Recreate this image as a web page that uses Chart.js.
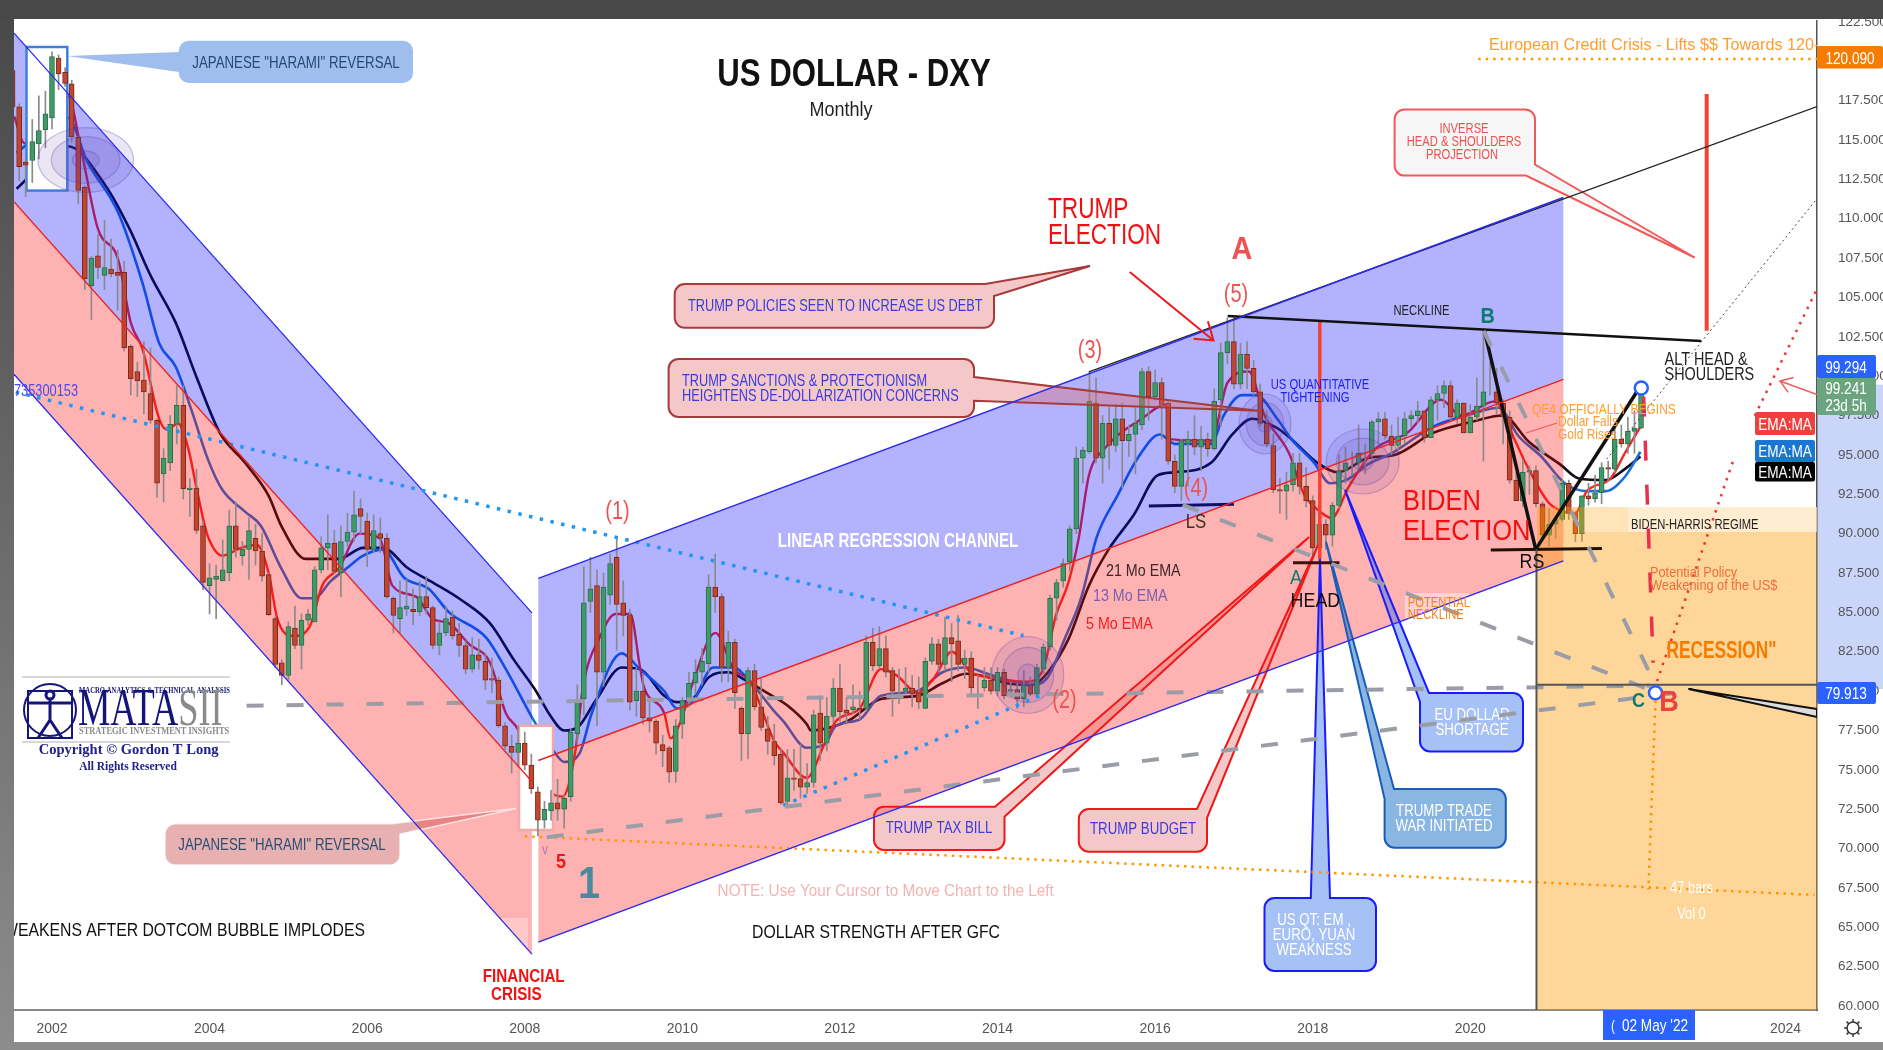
<!DOCTYPE html>
<html><head><meta charset="utf-8"><title>US DOLLAR - DXY</title>
<style>html,body{margin:0;padding:0;background:#666;overflow:hidden}canvas{display:block;filter:blur(0.45px)}</style>
<script src="https://cdn.jsdelivr.net/npm/chart.js@4/dist/chart.umd.min.js"></script></head>
<body><canvas id="c" width="1883" height="1050"></canvas>
<script>
// ---- monthly candles, Jul 2001 .. Mar 2022 ----
const firstCandleYear = 2001.5;
const candleOpen = [119.4,117.1,113.6,113.7,114.75,115.66,
116.4,120.2,119.3,118.56,115.17,112,105.75,107.65,106.4,106.8,106.6,106.6,
101.9,100.3,99.75,98.9,97.2,93.8,94.5,96.95,98.15,92.8,92.9,90.5,
86.7,87.1,87,87.5,90.5,88.6,89,89.7,88.9,87.4,84.6,81.8,
81,84,82.9,84.5,84.4,87.7,89.1,89.4,87.5,89.5,90.1,91.6,
90.8,89,90,89.7,85.9,84.6,85.2,85.2,85.05,86,85.3,82.9,
83.7,84.7,83.6,82.9,81.4,82.3,81.9,80.8,80.7,77.8,76.5,76.1,
76.7,75.3,73.6,71.8,72.4,72.9,72.5,73.3,77.3,79.5,85.7,86.7,
81.2,86.1,88.5,85.6,84.8,79.4,80,78.3,78.1,76.6,76.4,74.9,
77.9,79.5,80.5,81.2,81.75,86.6,86,81.5,83.1,78.9,77.3,81.3,
79,77.6,76.8,76,73,74.5,74.45,73.9,74.2,78.6,76.7,78.4,
80.2,78.8,78.8,78.9,78.9,83.1,81.6,82.7,81.3,80,80,80.2,
79.9,78.9,81.9,83,81.7,83.4,83.2,81.7,82.1,80.2,80.2,80.7,
80,81.2,80,80.1,79.5,80.4,79.8,81.4,82.8,85.9,87,88.2,
90.3,94.8,95.2,98.3,94.8,97,95.6,97.3,95.9,96.3,96.9,100.3,
98.7,99.6,98.3,94.6,93,95.7,96,95.5,96,95.4,98.5,101.5,
102.2,99.5,101.4,100.5,99,97,95.6,92.8,92.7,93.1,94.5,93,
92.1,89.1,90.6,89.9,91.8,94,94.5,94.5,95.1,95.1,97.1,97.3,
96.2,95.6,96.2,97.3,97.5,97.8,96.1,98.5,98.9,99.4,97.4,98.3,
96.4,97.4,98.1,99,99,98.3,97.4,93.4,92.1,93.9,94,91.9,
89.9,90.6,90.9,93.2,91.3,90,92.4,92.2,92.6,94.2,94.1,96,
95.7,96.5,96.7];
const candleHigh = [120.3,117.3,113.7,116.3,117.8,118.1,
120.6,120.4,119.6,118.8,115.2,112.1,107.6,109,109.9,108.7,108,107.3,
102,100.9,102.2,101.8,97.3,95.4,97.5,99.4,99.4,93.5,94.1,90.8,
88.1,88,89.6,91.5,92,89.5,91,90.6,90,87.5,84.7,82,
84.4,85.4,84.9,85.2,87.9,89.8,91.2,90.2,90.5,91.3,92.7,92.2,
91.3,91.2,91,90,86,87,87.1,86.5,87,87.3,85.4,84.4,
85.4,85.1,84.3,83.2,83.4,83.3,82.4,82.1,80.9,78,77.2,77.8,
77.4,76,73.9,73,73.7,74.4,73.4,77.6,80.4,87.9,88.5,87.7,
87.5,88.7,89.7,87,85.2,81.5,81.1,79.3,78.2,77.2,76.5,78.2,
79.6,81.2,82,82.7,87.4,88.7,86.2,83.8,83.3,79,81.5,81.7,
80.8,78.4,77.9,76.3,76.3,76.3,76.6,75.4,78.8,79.7,79.6,80.8,
81.7,79.6,80.4,80,83.5,84,84.1,83.5,81.5,81.4,81.5,81,
80.9,82.1,83.4,83.3,84.7,84.3,84.8,82.6,82.5,81,81.5,81.5,
81.5,81.4,80.6,80.5,81.3,80.9,81.7,83,86.1,87.1,88.4,90.5,
95.5,95.5,100.3,99.9,97.5,98,98.2,98.3,96.9,98,100.5,100.6,
100.4,99.9,98.5,95,96,96.5,97.5,96.8,96.4,99.2,102.1,103.7,
103.8,102.1,102.2,101,99.5,97.8,96.3,93.5,93.9,95.1,95.1,94.2,
92.4,90.9,90.9,92,95,95.5,95.2,96.9,95.7,97.2,97.7,97.7,
96.9,97.4,97.7,97.8,98.4,97.8,98.7,99.4,99.7,99.7,98.5,98.3,
98.2,99.9,103,100.9,100.5,98.5,97.8,93.9,94.7,94.3,94.3,92,
91.6,91.1,93.4,93.4,91.4,92.4,93.2,93.7,94.5,94.6,96.9,96.9,
97.4,97.8,99.4];
const candleLow = [116.9,112.4,111.4,112.3,113.8,114.5,
115.7,118.2,118.4,114.85,110.95,105.5,103.6,106.2,105.5,106.3,104.2,101.6,
98.8,98.7,97.6,97,92.3,92,94,95.7,92.2,91.1,90,86.45,
84.9,84.6,87,87,88.5,88,87.1,88,87,84.8,81.5,80.4,
80.7,82.7,81.4,84.2,84.4,87.5,87.7,87.5,86,89.2,89.5,90,
87.9,88.8,88.8,85.9,83.7,83.7,84.8,84.2,84.8,84.9,82.7,82.3,
83.5,83.3,82.2,81.1,81.2,81.4,80.1,79.9,77.7,76.3,74.8,75.2,
75,73.5,70.8,71.3,71.8,71.8,71.3,73,76.6,78.5,85,77.8,
80.3,85.5,82.6,83.5,78.8,78.4,77.9,77.4,76,75.2,74.2,74.2,
77,79,79.8,80.4,81.2,85,80.6,80.6,78.9,75.6,75.7,78.8,
77.5,76,75.3,72.8,72.7,73.7,73.2,73.5,73.9,75.6,76.2,78,
78.1,77.9,78.6,78.2,78.7,81.3,81.5,80.9,78.4,79.2,79.8,79,
78.9,78.9,81.7,81.2,81.3,80.6,81.3,80.8,79.7,78.9,80,79.8,
79.7,79.5,79.6,78.9,79,79.7,79.7,81.1,82.6,84.5,86.6,87.6,
90,93.2,95.1,94.5,93.2,94.1,95.2,92.9,94.9,93.8,96.6,97.2,
98.5,96,94.4,92.6,92.1,93,95,94,94.9,95.3,96.8,100.8,
99.2,99.2,99.2,98.8,96.8,95.5,92.6,91.3,90.9,92.7,92.5,91.7,
88.4,88.2,89,89.2,91.6,93.2,93.7,94.1,93.8,94.8,95.7,96,
95,95.2,95.7,96.8,97,95.8,96.1,97.2,98,97.1,97,96.4,
96.4,97.2,94.6,98.8,97.6,95.7,93.2,92.1,91.7,92.5,91.7,89.7,
89.2,89.7,90.8,90.9,89.5,89.5,91.8,92,91.9,93.3,93.9,95.5,
95.1,95.1,96.7];
const candleClose = [117.1,113.3,113.4,114.9,115.6,116.66,
120.3,119.2,118.6,115.2,111.8,106.2,107.5,106.9,106.9,106.5,106.4,101.8,
99.85,99.7,99,97.2,93.2,94.8,96.95,98.15,92.85,92.9,90.2,86.9,
87.2,87.3,87.7,90.5,89,89,90.2,88.9,87.3,84.85,81.7,81,
84.1,82.9,84.5,84.9,87.7,89.1,89.4,87.6,89.5,90.1,91.2,91.1,
89,90.2,89.7,86,84.8,85.3,85.4,85.05,86,85.3,82.9,83.7,
84.6,83.5,82.9,81.4,82.3,81.95,80.7,80.7,77.8,76.5,76.1,76.7,
75.3,73.8,71.8,72.5,72.9,72.5,73.2,77.4,79.3,85.6,86.5,81.2,
86.6,88.1,85.5,84.8,79.3,80,78.3,78.1,76.7,76.2,74.85,77.8,
79.4,80.5,81.2,81.9,86.6,86,81.5,83.1,79.9,77.3,81.3,79,
77.7,76.8,75.9,72.9,74.5,74.4,73.9,74.2,78.5,76.7,78.4,80.2,
78.7,78.6,79,78.8,83.1,81.6,82.7,81.2,80,80,80.2,79.8,
79.3,81.9,83,81.7,83.4,83,81.7,82.1,80.2,80.2,80.7,80,
81.2,79.7,80.1,79.5,80.4,79.8,81.5,82.8,85.9,86.9,88.1,90.3,
94.8,95.3,98.4,94.8,97,95.6,97.3,95.9,96.3,97,100.3,98.7,
99.6,98.2,94.6,93,95.9,96,95.5,96,95.4,98.4,101.5,102.2,
99.5,101.4,100.5,99,97,95.7,92.8,92.7,93.1,94.5,93,92.1,
89.1,90.6,89.9,91.8,94,94.5,94.5,95.1,95.1,97.1,97.3,96.2,
95.6,96.2,97.3,97.5,97.8,96.1,98.5,98.9,99.4,97.4,98.3,96.4,
97.4,98.1,99,99,98.3,97.4,93.4,92.1,93.9,94,91.9,89.9,
90.6,90.9,93.2,91.3,90,92.4,92.2,92.6,94.2,94.1,96,95.7,
96.5,96.7,99.24];

// ---- moving averages ----
const ema5Year  = [2001.52,2001.65,2002.2,2002.37,2002.58,2002.84,2003,2003.15,2003.36,2003.46,2003.6,2003.73,2003.83,2003.93,2003.98,2004.16,2004.4,2004.6,2004.75,2004.86,2005.06,2005.27,2005.43,2005.64,2005.9,2006.16,2006.32,2006.62,2006.83,2007.04,2007.29,2007.56,2007.76,2007.91,2008.08,2008.28,2008.48,2008.64,2008.74,2008.95,2009.15,2009.34,2009.46,2009.51,2009.77,2009.85,2009.98,2010.13,2010.42,2010.65,2010.86,2011.17,2011.28,2011.58,2011.8,2011.95,2012.25,2012.52,2012.72,2012.98,2013.19,2013.42,2013.66,2013.87,2014.38,2014.58,2014.74,2014.9,2015.03,2015.16,2015.36,2015.83,2016.14,2016.19,2016.71,2016.92,2017.19,2017.39,2017.7,2017.88,2018.12,2018.24,2018.46,2018.8,2019.2,2019.63,2019.88,2020.31,2020.56,2020.7,2020.99,2021.18,2021.33,2021.48,2021.78,2021.96,2022.16];
const ema5Value = [116.5,114.8,117.8,114.4,109.4,107.4,103.4,101.7,97.3,96.6,97,95.4,93,90.7,89.8,88.6,89.1,89.3,87.5,84.6,83.5,84.1,86.7,87.8,90,89.7,86.7,86,84.6,84.3,83,81.8,78.6,77.6,75.6,73.8,73.3,76.1,80.3,83.4,84.9,84.9,81.6,80.3,78.6,77,78.1,80.5,83.7,81.4,80.6,76.8,76.1,74.5,76.6,78.1,78.9,81.4,81,79.9,80.8,82.5,81.2,80.9,80.6,81.4,84.8,86.9,89.7,93.7,95.4,97.3,98.2,96,95.9,99.6,100.3,97.5,95.1,92.6,91.3,91,93,95.4,96.4,98.5,97.5,98.4,96,94.5,92,91.4,91.3,92.7,93.5,95.1,96.8];
const ema13Year = [2001.55,2002.2,2002.45,2002.84,2003.15,2003.36,2003.57,2003.78,2003.98,2004.16,2004.45,2004.65,2004.91,2005.17,2005.33,2005.54,2005.74,2005.95,2006.2,2006.47,2006.78,2007.04,2007.51,2007.76,2008.13,2008.38,2008.5,2008.7,2008.85,2009.23,2009.46,2009.77,2009.93,2010.13,2010.39,2010.65,2010.86,2011.17,2011.28,2011.58,2011.8,2011.95,2012.25,2012.52,2012.98,2013.3,2013.6,2013.87,2014.12,2014.44,2014.64,2014.85,2015.06,2015.26,2015.52,2015.78,2016.06,2016.25,2016.71,2016.87,2017.1,2017.28,2017.55,2017.73,2018.02,2018.22,2018.46,2018.7,2019,2019.53,2020.02,2020.36,2020.61,2020.9,2021.2,2021.48,2021.72,2021.96,2022.16];
const ema13Value= [114.2,116.4,113.6,110.4,105.9,102.1,100.6,97.7,94.7,92.8,91.4,90.5,87.8,85.9,85.9,87,87.8,88.6,89,87.2,86.5,85,83.4,81.4,78,76.1,75.5,76.1,78.6,82.4,81.4,80,78.9,79.3,81.5,81.5,80.6,78.7,78.1,76.4,76.6,77.8,78.2,79.7,80,81.2,81.5,81.1,80.7,80.4,80.9,83.3,85.9,89.8,92.4,94.8,96.3,95.7,95.7,97.5,98.8,98.8,97.3,96,94.5,93.2,93.5,94.4,95.1,96.8,97.6,98,96.2,94.9,93.2,92.7,92.7,93.6,95.2];
const ema21Year = [2001.55,2002.2,2002.68,2002.98,2003.25,2003.57,2003.83,2004.13,2004.45,2004.75,2004.91,2005.22,2005.64,2005.95,2006.2,2006.52,2006.83,2007.19,2007.56,2007.86,2008.13,2008.33,2008.5,2008.67,2008.9,2009.23,2009.46,2009.77,2009.93,2010.13,2010.34,2010.58,2010.8,2011.07,2011.33,2011.58,2011.63,2012.1,2012.52,2012.98,2013.3,2013.6,2013.87,2014.12,2014.44,2014.64,2014.9,2015.16,2015.41,2015.73,2016.03,2016.25,2016.71,2016.98,2017.23,2017.55,2017.73,2018.06,2018.32,2018.7,2019.04,2019.53,2020.02,2020.41,2020.75,2021.14,2021.38,2021.72,2021.96,2022.16];
const ema21Value= [111.9,114.6,112.1,109.4,106.4,103.4,100,96.4,94.5,92.4,90.5,88.4,88.4,89.1,89.1,87.8,86.9,85.8,84.3,82,80.1,78.4,77.5,77.7,79.4,81.5,81.4,79.7,79.3,79.5,80.9,81.2,80.7,79.9,79.1,77.9,77.5,78.1,79.5,79.7,80.5,81.1,80.9,80.5,80.4,81.2,83.3,86.7,89,91.2,93.7,93.9,94.5,96.3,97.3,96.7,96,94.5,93.9,94.8,95,96.4,97.1,97.5,95.8,94.4,93.5,93.4,94.1,94.9];

// ---- regression channels ----
const downYear = [2001.518,2008.091], downUpper = [121.79,84.97], downMiddle = [111.08,74.26], downLower = [100.12,63.30];
const upYear = [2008.172,2021.181], upUpper = [87.16,111.35], upMiddle = [75.59,99.80], upLower = [64.06,88.27];

// ---- axis ticks ----
const xTickYears = [2002,2004,2006,2008,2010,2012,2014,2016,2018,2020,2024];
const yTickValues = [60,62.5,65,67.5,70,72.5,75,77.5,80,82.5,85,87.5,90,92.5,95,97.5,100,102.5,105,107.5,110,112.5,115,117.5,120,122.5];

// ---- trend lines (year, price) ----
const BLUE='#2a2aee',RED='#ee2222',GREY='#9a9da6',DBLUE='#2196f3',ORG='#ff9800',BLK='#111';
const trendLines = [
 {xs:downYear,ys:downUpper,c:BLUE,w:1.3},{xs:downYear,ys:downMiddle,c:RED,w:1.3},{xs:downYear,ys:downLower,c:BLUE,w:1.3},
 {xs:upYear,ys:upUpper,c:BLUE,w:1.5},{xs:upYear,ys:upMiddle,c:RED,w:1.5},{xs:upYear,ys:upLower,c:BLUE,w:1.5},
 {xs:[2015.16,2024.4],ys:[100.28,117.12],c:'#222',w:1.3},
 {xs:[2020.84,2020.84],ys:[89,59.75],c:'#555',w:2},
 {xs:[2020.84,2024.4],ys:[80.4,80.4],c:'#555',w:2},
 {xs:[2004.47,2022.28],ys:[79.07,80.35],c:GREY,w:4,d:[17,23]},
 {xs:[2008.28,2022.76],ys:[70.72,79.99],c:GREY,w:4,d:[17,23]},
 {xs:[2016.35,2022.27],ys:[91.83,80.1],c:GREY,w:4,d:[17,23]},
 {xs:[2020.17,2022.35],ys:[102.88,80.4],c:GREY,w:4,d:[17,23]},
 {xs:[2001.54,2014.33],ys:[98.98,83.52],c:DBLUE,w:3.5,d:[3.5,7.5]},
 {xs:[2011.28,2014.54],ys:[72.74,79.72],c:DBLUE,w:3.5,d:[3.5,7.5]},
 {xs:[2008,2024.37],ys:[70.78,67.06],c:ORG,w:2.5,d:[2.5,5]},
 {xs:[2020.1,2024.4],ys:[120.15,120.15],c:ORG,w:2.5,d:[2.5,5]},
 {xs:[2022.35,2022.26],ys:[79.4,67.39],c:ORG,w:2.5,d:[2.5,5]},
 {xs:[2023.61,2024.39],ys:[97.48,105.43],c:'#ee3333',w:2.5,d:[2.5,6]},
 {xs:[2022.37,2023.35],ys:[80.63,94.83],c:'#ee3333',w:2.5,d:[2.5,6]},
 {xs:[2021.73,2024.4],ys:[94.73,111.27],c:'#444',w:1,d:[2,3]},
 {xs:[2016.92,2022.93],ys:[103.83,102.24],c:BLK,w:2.5},
 {xs:[2023,2023],ys:[117.92,102.88],c:'#f44336',w:4},
 {xs:[2018.09,2018.09],ys:[103.54,88.39],c:'#f44336',w:3.5},
 {xs:[2022.2,2022.32],ys:[98.7,81.8],c:'#e8304f',w:3.5,d:[20,24]},
 {xs:[2020.18,2020.83],ys:[102.88,89],c:BLK,w:3.5},
 {xs:[2020.83,2022.12],ys:[89,99.06],c:BLK,w:3.5},
 {xs:[2015.92,2017],ys:[91.75,91.86],c:'#101060',w:3},
 {xs:[2017.75,2018.34],ys:[88.15,88.15],c:'#401010',w:3},
 {xs:[2020.26,2021.67],ys:[88.96,89.05],c:'#201000',w:3},
];
const ringYear=[2022.17,2022.35], ringValue=[99.25,79.9];

const pairs=(xs,ys)=>xs.map((x,i)=>({x,y:ys[i]}));
const candleYear=candleClose.map((_,i)=>firstCandleYear+i/12);
const isUp=i=>candleClose[i]>=candleOpen[i];

// ---- pixel-placed decorations ----
const F='"Liberation Sans",sans-serif';
const callouts=[
 {x:178.8,y:40.8,w:234.2,h:42.2,r:10,fill:'rgba(70,130,220,0.52)',stroke:null,side:'left',a:[178.8,72],tip:[67,56],b:[178.8,52],color:'#234c70',size:17,lines:[['JAPANESE "HARAMI" REVERSAL',296,62]],center:true},
 {x:165,y:823.7,w:235,h:41.3,r:10,fill:'rgba(200,70,70,0.42)',stroke:'rgba(255,255,255,0.7)',sw:1.5,side:'tr',a:[392,823.7],tip:[516,808.6],b:[400,834],color:'#2a4f73',size:17,lines:[['JAPANESE "HARAMI" REVERSAL',282,844]],center:true},
 {x:674.7,y:284,w:319.3,h:43.8,r:10,fill:'rgba(224,102,102,0.36)',stroke:'#a83a3a',sw:2,side:'tr',a:[985,284],tip:[1090,266],b:[994,296],color:'#3a3ae0',size:17,xs:.75,lines:[['TRUMP POLICIES SEEN TO INCREASE US DEBT',688,305]]},
 {x:668.6,y:358.9,w:305.4,h:58.1,r:10,fill:'rgba(224,102,102,0.36)',stroke:'#a83a3a',sw:2,side:'right',a:[974,377],tip:[1258,410.7],b:[974,400.7],color:'#3a3ae0',size:17,xs:.75,lines:[['TRUMP SANCTIONS & PROTECTIONISM',682,379.6],['HEIGHTENS DE-DOLLARIZATION CONCERNS',682,395]]},
 {x:874,y:806.7,w:130.5,h:43.3,r:10,fill:'rgba(224,102,102,0.36)',stroke:'#f01818',sw:2,side:'tr',a:[995,806.7],tip:[1309,537],b:[1004.5,816.7],color:'#3a3ae0',size:17,xs:.78,lines:[['TRUMP TAX BILL',939,827]],center:true},
 {x:1078.8,y:809,w:128.2,h:42.7,r:10,fill:'rgba(224,102,102,0.36)',stroke:'#f01818',sw:2,side:'tr',a:[1197,809],tip:[1318,545],b:[1207,818],color:'#3a3ae0',size:17,xs:.78,lines:[['TRUMP BUDGET',1143,828]],center:true},
 {x:1264.5,y:898,w:111.5,h:73,r:10,fill:'rgba(33,100,230,0.4)',stroke:'#1a1aff',sw:2,side:'top',a:[1310.8,898],tip:[1320,558],b:[1330,898],color:'#fff',size:17,xs:.78,lines:[['US QT: EM ,',1314,919],['EURO, YUAN',1314,934],['WEAKNESS',1314,949]],center:true},
 {x:1384.6,y:789,w:121.2,h:58.7,r:10,fill:'rgba(20,110,200,0.5)',stroke:'#1a5cb8',sw:2,side:'tl',a:[1384.6,799],tip:[1326,541.7],b:[1394,789],color:'#fff',size:17,xs:.78,lines:[['TRUMP TRADE',1444,810],['WAR INITIATED',1444,825]],center:true},
 {x:1420,y:693,w:103,h:58.4,r:10,fill:'rgba(33,100,230,0.4)',stroke:'#1a1aff',sw:2,side:'tl',a:[1420,702],tip:[1345,490],b:[1429,693],color:'#fff',size:17,xs:.78,lines:[['EU DOLLAR',1472,714],['SHORTAGE',1472,729]],center:true},
 {x:1394.6,y:109.4,w:140.4,h:66.2,r:10,fill:'rgba(245,245,245,0.9)',stroke:'#f05a5a',sw:2,side:'br',a:[1535,164.5],tip:[1694.6,257.5],b:[1526,175.6],color:'#f05050',size:14,xs:.8,lines:[['INVERSE',1464,127.5],['HEAD & SHOULDERS',1464,140.5],['PROJECTION',1462,153.5]],center:true},
];
const ellipses=[[85.7,160,47.8,32.4],[1027.8,675,36,38.5],[1265,424,26,30],[1362.7,461.5,36.5,32.5]];
const labels=[
 ['US DOLLAR - DXY',854,74.5,{s:38,b:1,c:'#111',a:'center',x:.82}],['Monthly',841,109,{s:20,c:'#222',a:'center',x:.9}],
 ['(1)',617.5,511,{s:25,c:'#ef5350',a:'center'}],['(3)',1090,349.5,{s:25,c:'#ef5350',a:'center'}],['(5)',1236,293.6,{s:25,c:'#ef5350',a:'center'}],
 ['A',1242,248.5,{s:32,b:1,c:'#ef5350',a:'center',x:.9}],['(4)',1196,488,{s:25,c:'#ef5350',a:'center'}],['LS',1196,521,{s:21,c:'#332',a:'center'}],['(2)',1064.5,700,{s:25,c:'#ef5350',a:'center'}],
 ['TRUMP',1048,208,{s:29,c:'#f01010',x:.78}],['ELECTION',1048,234,{s:29,c:'#f01010',x:.78}],
 ['LINEAR REGRESSION CHANNEL',898,539.5,{s:20,b:1,c:'#fff',a:'center',x:.76}],
 ['21 Mo EMA',1106,569.6,{s:17,c:'#3a2a2a',x:.84}],['13 Mo EMA',1093,594.6,{s:17,c:'#7a5fae',x:.84}],['5 Mo EMA',1086,623,{s:17,c:'#f02020',x:.84}],
 ['US QUANTITATIVE',1320,384,{s:14,c:'#2020f0',a:'center'}],['TIGHTENING',1315,397,{s:14,c:'#2020f0',a:'center'}],
 ['NECKLINE',1421.5,310,{s:14,c:'#222',a:'center'}],['B',1487.7,315.4,{s:22,b:1,c:'#0e7a70',a:'center',x:.9}],
 ['ALT HEAD &',1664.6,358.5,{s:18,c:'#222'}],['SHOULDERS',1664.6,374,{s:18,c:'#222'}],
 ['QE4 OFFICIALLY BEGINS',1532,408,{s:15,c:'#ff9d2e'}],['Dollar Falls',1558,420.7,{s:15,c:'#ff9d2e'}],['Gold Rises',1558,433.8,{s:15,c:'#ff9d2e'}],
 ['BIDEN',1403,500,{s:30,c:'#f01010',x:.85}],['ELECTION',1403,530,{s:30,c:'#f01010',x:.85}],
 ['BIDEN-HARRIS REGIME',1631,524,{s:14,c:'#222'}],
 ['A',1296,577,{s:20,c:'#0e7a70',a:'center',x:.9}],['HEAD',1315.4,600,{s:21,c:'#111',a:'center',x:.85}],['RS',1532,561,{s:21,c:'#111',a:'center',x:.85}],
 ['POTENTIAL',1407.7,602,{s:14,c:'#f5821f'}],['NECKLINE',1407.7,614,{s:14,c:'#f5821f'}],
 ['Potential Policy',1650,571,{s:15,c:'#ef6c3c',x:.85}],['Weakening of the US$',1650,584.5,{s:15,c:'#ef6c3c',x:.85}],
 ['RECESSION"',1666.5,650,{s:24,b:1,c:'#f57c00',x:.72}],['C',1638.5,699.6,{s:20,b:1,c:'#0e7a70',a:'center',x:.9}],['B',1669,701,{s:30,b:1,c:'#ef4040',a:'center',x:.9}],
 ['47 bars',1691.5,887,{s:16,c:'#fff',a:'center'}],['Vol 0',1691.5,913,{s:16,c:'#fff',a:'center'}],
 ['735300153',14,389.6,{s:16,c:'#4a4af0'}],
 ['5',561,861,{s:20,b:1,c:'#ee1515',a:'center',x:.9}],['1',589,884,{s:44,b:1,c:'#4a8a9a',a:'center',x:.9}],['v',545,848,{s:15,c:'#a97bb0',a:'center'}],
 ['DOLLAR WEAKENS AFTER DOTCOM BUBBLE IMPLODES',365,929,{s:19,c:'#111',a:'right',x:.83}],
 ['FINANCIAL',523.7,975,{s:19,b:1,c:'#ee1515',a:'center'}],['CRISIS',516.3,993,{s:19,b:1,c:'#ee1515',a:'center'}],
 ['NOTE: Use Your Cursor to Move Chart to the Left',717.6,890,{s:17,c:'#f2b3b3',x:.9}],
 ['DOLLAR STRENGTH AFTER GFC',752,931.7,{s:19,c:'#111',x:.83}],
 ['European Credit Crisis - Lifts $$ Towards 120-125',1489,43.5,{s:17,c:'#ff9d2e',x:.95}],
];
const tags=[
 [1817,46,66,22.5,'#f57c00',[['120.090',1850,57.5]]],
 [1817,355,59,23,'#2962ff',[['99.294',1846,366.5]]],
 [1817,378,59,37,'#6aa57f',[['99.241',1846,388],['23d 5h',1846,405]]],
 [1817,682,59,22,'#2962ff',[['79.913',1846,693]]],
 [1755,412,60,23,'#ef4040',[['EMA:MA',1785,423.5]]],
 [1755,440,60,22,'#1976d2',[['EMA:MA',1785,451]]],
 [1755,462,60,19.6,'#000',[['EMA:MA',1785,472]]],
];

function txt(ctx,s,x,y,o){ctx.save();ctx.translate(x,y+1.5);ctx.scale(o.x||.8,1);ctx.font=(o.b?'bold ':'')+(o.s||15)+'px '+(o.f||F);ctx.fillStyle=o.c||'#000';ctx.textAlign=o.a||'left';ctx.textBaseline='middle';ctx.fillText(s,0,0);ctx.restore();}
function calloutPath(ctx,c){const {x,y,w,h,r,side,a,tip,b}=c;const R=x+w,B=y+h;const T=()=>{ctx.lineTo(a[0],a[1]);ctx.lineTo(tip[0],tip[1]);ctx.lineTo(b[0],b[1]);};
 ctx.beginPath();ctx.moveTo(x+r,y);if(side==='top')T();
 if(side==='tr')T();else ctx.arcTo(R,y,R,y+r,r);
 if(side==='right')T();
 if(side==='br')T();else ctx.arcTo(R,B,R-r,B,r);
 ctx.arcTo(x,B,x,B-r,r);
 if(side==='left')T();
 if(side==='tl')T();else ctx.arcTo(x,y,x+r,y,r);
 ctx.closePath();}
function channel(ctx,px,py,xs,a,b,col){ctx.fillStyle=col;ctx.beginPath();ctx.moveTo(px(xs[0]),py(a[0]));ctx.lineTo(px(xs[1]),py(a[1]));ctx.lineTo(px(xs[1]),py(b[1]));ctx.lineTo(px(xs[0]),py(b[0]));ctx.closePath();ctx.fill();}
function logo(ctx){ctx.save();ctx.fillStyle='#fff';ctx.fillRect(20,674,214,100);
 ctx.strokeStyle='#ccc';ctx.lineWidth=1.5;ctx.beginPath();ctx.moveTo(22,677);ctx.lineTo(230,677);ctx.moveTo(22,742);ctx.lineTo(230,742);ctx.stroke();
 ctx.strokeStyle='#14147a';ctx.lineWidth=2;ctx.beginPath();ctx.arc(50,710,26,0,Math.PI*2);ctx.stroke();ctx.strokeRect(28,691,44,47);
 ctx.lineWidth=3;ctx.beginPath();ctx.arc(50,695,4,0,Math.PI*2);ctx.moveTo(50,699);ctx.lineTo(50,720);ctx.lineTo(38,738);ctx.moveTo(50,720);ctx.lineTo(62,738);ctx.moveTo(29,703);ctx.lineTo(71,703);ctx.stroke();
 const S='"Liberation Serif",serif';
 txt(ctx,'MACRO ANALYTICS & TECHNICAL ANALYSIS',79,689,{s:8.4,b:1,c:'#14147a',f:S,x:.8});
 ctx.font='52px '+S;ctx.textBaseline='middle';ctx.textAlign='left';ctx.fillStyle='#14147a';ctx.save();ctx.translate(78,711);ctx.scale(.7,1);ctx.fillText('MATA',0,0);const w=ctx.measureText('MATA').width;ctx.fillStyle='#8a8a8a';ctx.fillText('SII',w,0);ctx.restore();
 txt(ctx,'STRATEGIC INVESTMENT INSIGHTS',79,729.5,{s:10,b:1,c:'#8a8a8a',f:S,x:.84});
 txt(ctx,'Copyright © Gordon T Long',128.6,749,{s:15,b:1,c:'#20208a',f:S,a:'center',x:.97});
 txt(ctx,'All Rights Reserved',128,766,{s:11.5,b:1,c:'#20208a',f:S,a:'center',x:1});
 ctx.restore();}

const overlayPlugin={id:'overlay',
 beforeDraw(chart){const ctx=chart.ctx;ctx.save();
  const g=ctx.createLinearGradient(0,0,0,1050);g.addColorStop(0,'#484848');g.addColorStop(1,'#8c8c8c');
  ctx.fillStyle=g;ctx.fillRect(0,0,1883,1050);
  ctx.fillStyle='#fff';ctx.fillRect(14,19,1869,1023);
  ctx.fillStyle='#c9d6fa';ctx.fillRect(1817,384.6,66,304.4);
  ctx.restore();},
 beforeDatasetDraw(chart,args){const ds=chart.data.datasets[args.index];if(!ds.hook)return;const ctx=chart.ctx,A=chart.chartArea;
  const px=v=>chart.scales.x.getPixelForValue(v),py=v=>chart.scales.y.getPixelForValue(v);
  const boxes=[[26.5,47,40.8,143.6],[519,725.7,34,104.3]];
  if(ds.hook==='boxes'){ctx.save();ctx.beginPath();ctx.rect(A.left,A.top,A.right-A.left,A.bottom-A.top);ctx.clip();
   // channels sit over the moving averages and under the candles
   const B='rgba(0,0,255,0.3)',P='rgba(255,0,0,0.3)';
   channel(ctx,px,py,downYear,downUpper,downMiddle,B);channel(ctx,px,py,downYear,downMiddle,downLower,P);
   channel(ctx,px,py,upYear,upUpper,upMiddle,B);channel(ctx,px,py,upYear,upMiddle,upLower,P);
   ctx.fillStyle='rgba(255,255,255,0.3)';ctx.fillRect(502,918,26,30);
   ctx.fillStyle='#fff';boxes.forEach(b=>ctx.fillRect(b[0],b[1],b[2],b[3]));
   ctx.lineWidth=2.5;ctx.strokeStyle='#3f7fdc';ctx.strokeRect(26.5,47,40.8,143.6);
   ctx.lineWidth=2.5;ctx.strokeStyle='#f0a8a8';ctx.strokeRect(519,725.7,34,104.3);
   ctx.restore();return;}
  ctx.save();ctx.beginPath();ctx.rect(A.left,A.top,A.right-A.left,A.bottom-A.top);ctx.clip();
  // regime box
  ctx.fillStyle='rgba(255,152,0,0.4)';ctx.fillRect(1537,507,280,503);
  ctx.fillStyle='rgba(255,255,255,0.32)';ctx.fillRect(1584,507,233,25);
  ctx.fillStyle='rgba(255,255,255,0.35)';ctx.fillRect(1628,507,189,25);
  ctx.fillStyle='rgba(255,255,255,0.4)';ctx.fillRect(1405,593,64,28);
  // target rings
  ellipses.forEach(e=>{[1,.72,.28].forEach(k=>{ctx.beginPath();ctx.ellipse(e[0],e[1],e[2]*k,e[3]*k,0,0,Math.PI*2);ctx.fillStyle='rgba(90,60,170,0.13)';ctx.fill();ctx.lineWidth=1.2;ctx.strokeStyle='rgba(90,60,170,0.3)';ctx.stroke();});});
  // wedge
  ctx.beginPath();ctx.moveTo(1688.5,689);ctx.lineTo(1817,709);ctx.lineTo(1817,717);ctx.closePath();ctx.fillStyle='#ddd';ctx.fill();ctx.lineWidth=2;ctx.strokeStyle='#111';ctx.stroke();
  // callouts
  callouts.forEach(c=>{calloutPath(ctx,c);ctx.fillStyle=c.fill;ctx.fill();if(c.stroke){ctx.lineWidth=c.sw;ctx.strokeStyle=c.stroke;ctx.stroke();}
   c.lines.forEach(l=>txt(ctx,l[0],l[1],l[2],{s:c.size,c:c.color,a:c.center?'center':'left',x:c.xs||.78}));});
  ctx.restore();
 },
 afterDatasetsDraw(chart){const ctx=chart.ctx,A=chart.chartArea;
  const px=v=>chart.scales.x.getPixelForValue(v),py=v=>chart.scales.y.getPixelForValue(v);
  ctx.save();ctx.beginPath();ctx.rect(A.left,A.top,A.right-A.left,A.bottom-A.top);ctx.clip();
  // rings at projection points
  ringYear.forEach((y,i)=>{ctx.beginPath();ctx.arc(px(y),py(ringValue[i]),6.5,0,Math.PI*2);ctx.fillStyle='#fff';ctx.fill();ctx.lineWidth=2.5;ctx.strokeStyle='#2962ff';ctx.stroke();});
  // arrows
  const arrow=(x0,y0,x1,y1,l)=>{const t=Math.atan2(y1-y0,x1-x0);ctx.beginPath();ctx.moveTo(x0,y0);ctx.lineTo(x1,y1);ctx.moveTo(x1-l*Math.cos(t-.6),y1-l*Math.sin(t-.6));ctx.lineTo(x1,y1);ctx.lineTo(x1-l*Math.cos(t+.6),y1-l*Math.sin(t+.6));ctx.stroke();};
  ctx.strokeStyle='#f01818';ctx.lineWidth=2;arrow(1129.8,272,1213.5,340.5,20);
  ctx.strokeStyle='#f05a5a';ctx.lineWidth=1.5;arrow(1817,394.6,1780,381,14);
  ctx.strokeStyle='#f05a5a';ctx.lineWidth=1.2;ctx.beginPath();ctx.moveTo(1557,423);ctx.lineTo(1526,433);ctx.stroke();
  labels.forEach(l=>txt(ctx,l[0],l[1],l[2],l[3]));
  logo(ctx);
  ctx.restore();
 },
 afterDraw(chart){const ctx=chart.ctx;ctx.save();
  ctx.fillStyle='#484848';ctx.fillRect(0,0,1883,19);
  ctx.fillStyle='#fff';ctx.fillRect(1818.5,1011,64.5,31);
  tags.forEach(t=>{ctx.fillStyle=t[4];ctx.beginPath();ctx.roundRect(t[0],t[1],t[2],t[3],2);ctx.fill();t[5].forEach(l=>txt(ctx,l[0],l[1],l[2],{s:17,c:'#fff',a:'center',x:.8}));});
  // date badge
  ctx.fillStyle='#2962ff';ctx.fillRect(1603,1010,92,30);
  txt(ctx,"(",1613,1025,{s:15,c:'#fff',a:'center'});txt(ctx,"02 May '22",1655,1025,{s:17,c:'#fff',a:'center'});
  // settings icon
  ctx.strokeStyle='#333';ctx.lineWidth=1.5;ctx.beginPath();ctx.arc(1853,1028,6,0,Math.PI*2);ctx.stroke();
  for(let i=0;i<8;i++){const t=i*Math.PI/4;ctx.beginPath();ctx.moveTo(1853+6*Math.cos(t),1028+6*Math.sin(t));ctx.lineTo(1853+9*Math.cos(t),1028+9*Math.sin(t));ctx.stroke();}
  ctx.restore();}
};

const datasets=[
 {type:'line',label:'EMA 21',data:pairs(ema21Year,ema21Value),borderColor:'#101018',borderWidth:2.6,pointRadius:0,cubicInterpolationMode:'monotone',order:50},
 {type:'line',label:'EMA 13',data:pairs(ema13Year,ema13Value),borderColor:'#1a6fdc',borderWidth:2.6,pointRadius:0,cubicInterpolationMode:'monotone',order:49},
 {type:'line',label:'EMA 5',data:pairs(ema5Year,ema5Value),borderColor:'#f42a2a',borderWidth:2.4,pointRadius:0,cubicInterpolationMode:'monotone',order:48},
 {type:'bar',label:'Range',hook:'boxes',data:candleYear.map((x,i)=>({x,y:[candleLow[i],candleHigh[i]]})),backgroundColor:'#8a8a8a',barThickness:1,grouped:false,order:40},
 {type:'bar',label:'DXY',data:candleYear.map((x,i)=>({x,y:[candleOpen[i],candleClose[i]]})),backgroundColor:candleYear.map((_,i)=>isUp(i)?'#3f9a68':'#c2452f'),borderColor:candleYear.map((_,i)=>isUp(i)?'#2c6e4a':'#7a2a1c'),borderWidth:1,borderSkipped:false,barThickness:5,grouped:false,order:39},
 ...trendLines.map((t,i)=>({type:'line',label:'trend '+i,hook:i===0?'overlays':undefined,data:pairs(t.xs,t.ys),borderColor:t.c,borderWidth:t.w,borderDash:t.d||[],pointRadius:0,order:i===0?20:10})),
];

new Chart(document.getElementById('c'),{
 data:{datasets},
 plugins:[overlayPlugin],
 options:{responsive:false,animation:false,devicePixelRatio:1,
  layout:{autoPadding:false,padding:{left:14,top:19,right:0,bottom:0}},
  plugins:{legend:{display:false},tooltip:{enabled:false}},
  scales:{
   x:{type:'linear',min:2001.518,max:2024.4,offset:false,grid:{display:false},border:{display:true,color:'#888',width:2},
      afterBuildTicks:s=>{s.ticks=xTickYears.map(v=>({value:v}));},afterFit:s=>{s.height=40;},
      ticks:{autoSkip:false,maxRotation:0,padding:3,color:'#555',font:{family:F,size:14},callback:v=>String(v)}},
   y:{type:'linear',position:'right',min:59.75,max:122.55,grid:{display:false},border:{display:true,color:'#555',width:1.5},
      afterBuildTicks:s=>{s.ticks=yTickValues.map(v=>({value:v}));},afterFit:s=>{s.width=66;},
      ticks:{autoSkip:false,padding:13,crossAlign:'near',color:'#555',font:{family:F,size:13.5},callback:v=>v.toFixed(3)}}
  }}
});
</script></body></html>
